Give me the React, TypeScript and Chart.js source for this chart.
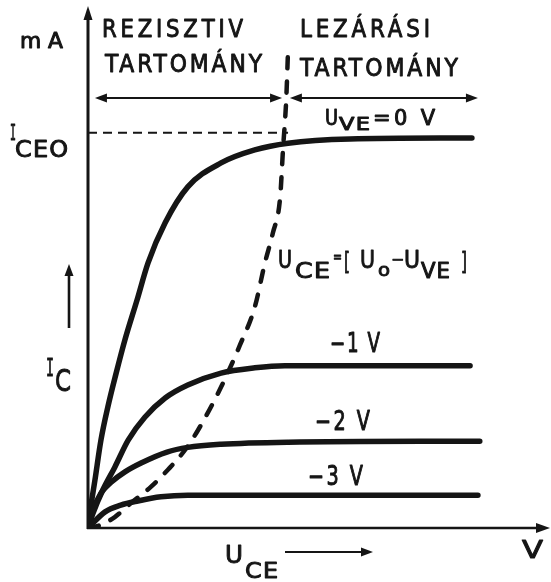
import { useEffect, useRef } from "react";
import { Chart, registerables } from "chart.js";

Chart.register(...registerables);

// Output characteristics: collector current I_C (mA) against U_CE (V),
// one curve per emitter bias U_VE.
type Pt = [number, number];

const curveVe0: Pt[] = [
  [0, 0], [0.04, 0.29], [0.15, 0.92], [0.28, 1.69], [0.43, 2.33], [0.61, 2.98],
  [0.8, 3.62], [1.06, 4.38], [1.3, 5.1], [1.67, 5.87], [2.16, 6.56], [2.88, 7.02],
  [3.61, 7.27], [4.33, 7.4], [5.67, 7.48], [8.31, 7.5],
];
const curveVeMinus1: Pt[] = [
  [0, 0], [0.11, 0.29], [0.32, 0.73], [0.58, 1.17], [0.87, 1.69], [1.23, 2.13],
  [1.67, 2.5], [2.16, 2.75], [2.88, 2.98], [3.61, 3.08], [4.26, 3.12], [8.27, 3.12],
];
const curveVeMinus2: Pt[] = [
  [0, 0], [0.11, 0.35], [0.28, 0.67], [0.5, 0.88], [0.8, 1.08], [1.15, 1.25],
  [1.71, 1.46], [2.16, 1.55], [2.88, 1.61], [4.33, 1.65], [8.48, 1.67],
];
const curveVeMinus3: Pt[] = [
  [0, 0], [0.37, 0.31], [0.71, 0.44], [1.08, 0.52], [1.58, 0.6], [2.16, 0.63],
  [4.26, 0.63], [8.44, 0.63],
];
// Boundary between the resistive and the cut-off region: U_CE = U_0 - U_VE
const boundary: Pt[] = [
  [0, 0], [0.28, 0.06], [0.58, 0.21], [0.93, 0.48], [1.36, 0.79], [1.73, 1.12],
  [2.1, 1.5], [2.38, 1.88], [2.88, 2.71], [3.29, 3.52], [3.61, 4.25],
  [3.83, 5.1], [4.0, 5.67], [4.16, 6.37], [4.22, 7.27], [4.29, 8.23], [4.33, 9.19],
];
const iceoLevel = 7.6;
const iceoLine: Pt[] = [[0, iceoLevel], [4.33, iceoLevel]];

// Double-headed arrows marking the two regions: [from, to] on the U_CE axis
const regionLevel = 8.27;
const resistiveSpan: Pt = [0.15, 4.2];
const cutoffSpan: Pt = [4.37, 8.44];

const INK = "#151515";
const SANS = '"DejaVu Sans Condensed", "Liberation Sans Narrow", "DejaVu Sans", sans-serif';
const MONO = '"DejaVu Sans Mono", "Liberation Mono", monospace';

const toXY = (pts: Pt[]) => pts.map(([x, y]) => ({ x, y }));

function arrowHead(ctx: CanvasRenderingContext2D, tx: number, ty: number, dx: number, dy: number, len = 12, half = 4.5) {
  const nx = -dy, ny = dx;
  ctx.beginPath();
  ctx.moveTo(tx, ty);
  ctx.lineTo(tx - dx * len + nx * half, ty - dy * len + ny * half);
  ctx.lineTo(tx - dx * len - nx * half, ty - dy * len - ny * half);
  ctx.closePath();
  ctx.fill();
}

function arrowLine(ctx: CanvasRenderingContext2D, x1: number, y1: number, x2: number, y2: number, both: boolean, width = 2) {
  const d = Math.hypot(x2 - x1, y2 - y1);
  const dx = (x2 - x1) / d, dy = (y2 - y1) / d;
  ctx.lineWidth = width;
  ctx.beginPath();
  ctx.moveTo(both ? x1 + dx * 8 : x1, both ? y1 + dy * 8 : y1);
  ctx.lineTo(x2 - dx * 8, y2 - dy * 8);
  ctx.stroke();
  arrowHead(ctx, x2, y2, dx, dy);
  if (both) arrowHead(ctx, x1, y1, -dx, -dy);
}

// Draws text whose left edge, baseline, cap height and total width are given;
// a thin outline gives the strokes a pen-like weight.
function ink(ctx: CanvasRenderingContext2D, text: string, left: number, baseline: number, capH: number, width: number, family = SANS, spacing = 0) {
  ctx.save();
  ctx.font = `${Math.round(capH / 0.73)}px ${family}`;
  (ctx as any).letterSpacing = `${spacing}px`;
  const w = ctx.measureText(text).width - spacing;
  ctx.translate(left, baseline);
  ctx.scale(width / w, 1);
  ctx.textBaseline = "alphabetic";
  ctx.textAlign = "left";
  ctx.fillStyle = INK;
  ctx.strokeStyle = INK;
  ctx.lineWidth = 0.9;
  ctx.lineJoin = "round";
  ctx.fillText(text, 0, 0);
  ctx.strokeText(text, 0, 0);
  ctx.restore();
}

const inkPlugin = {
  id: "diagramInk",
  beforeDatasetsDraw(chart: any) {
    const { ctx, chartArea } = chart;
    const { left, right, top, bottom } = chartArea;
    ctx.save();
    ctx.strokeStyle = INK;
    ctx.fillStyle = INK;
    ctx.lineCap = "butt";
    // axes
    ctx.lineWidth = 3;
    ctx.beginPath();
    ctx.moveTo(left, bottom + 1);
    ctx.lineTo(left, top + 10);
    ctx.stroke();
    arrowHead(ctx, left, top - 2, 0, -1, 14, 4.5);
    ctx.lineWidth = 2.6;
    ctx.beginPath();
    ctx.moveTo(left - 1, bottom);
    ctx.lineTo(right - 10, bottom);
    ctx.stroke();
    arrowHead(ctx, right, bottom, 1, 0, 14, 5);
    ctx.restore();
  },
  afterDraw(chart: any) {
    const { ctx, scales } = chart;
    const xs = scales.x, ys = scales.y;
    const py = ys.getPixelForValue(regionLevel);
    ctx.save();
    ctx.strokeStyle = INK;
    ctx.fillStyle = INK;
    arrowLine(ctx, xs.getPixelForValue(resistiveSpan[0]), py, xs.getPixelForValue(resistiveSpan[1]), py, true);
    arrowLine(ctx, xs.getPixelForValue(cutoffSpan[0]), py, xs.getPixelForValue(cutoffSpan[1]), py, true);
    // I_C and U_CE direction arrows
    arrowLine(ctx, 69, 328, 69, 264, false, 2.6);
    arrowLine(ctx, 285, 552, 373, 552, false, 2.2);
    ctx.restore();

    // axis captions
    ink(ctx, "m A", 20, 48, 15, 43);
    ink(ctx, "I", 10, 140, 15, 6, MONO);
    ink(ctx, "CEO", 15, 157, 17, 53, SANS, 1);
    ink(ctx, "I", 46, 376, 18, 8, MONO);
    ink(ctx, "C", 55, 391, 22, 16);
    ink(ctx, "U", 225, 563, 18, 18);
    ink(ctx, "CE", 245, 578, 16, 33, SANS, 1);
    ink(ctx, "V", 522, 558, 18, 21);

    // region titles
    ink(ctx, "REZISZTIV", 102, 37, 18, 141, SANS, 4);
    ink(ctx, "TARTOMÁNY", 105, 72, 18, 157, SANS, 3);
    ink(ctx, "LEZÁRÁSI", 300, 37, 18, 130, SANS, 4);
    ink(ctx, "TARTOMÁNY", 300, 76, 18, 158, SANS, 3);

    // curve parameters
    ink(ctx, "U", 325, 125, 15, 13);
    ink(ctx, "VE", 339, 130, 13, 31, SANS, 1);
    ink(ctx, "=0 V", 373, 125, 15, 62, SANS, 3);
    ink(ctx, "−1 V", 330, 352, 19, 50, SANS, 2);
    ink(ctx, "−2 V", 315, 430, 19, 55, SANS, 3);
    ink(ctx, "−3 V", 308, 485, 19, 55, SANS, 3);

    // boundary formula
    ink(ctx, "U", 278, 268, 18, 14);
    ink(ctx, "CE", 295, 278, 15, 35, SANS, 1);
    ink(ctx, "=", 333, 262, 12, 9);
    ink(ctx, "[", 344, 270, 18, 6);
    ink(ctx, "U", 360, 268, 18, 15);
    ink(ctx, "o", 378, 276, 13, 12);
    ink(ctx, "−", 391, 265, 12, 13);
    ink(ctx, "U", 404, 268, 18, 16);
    ink(ctx, "VE", 421, 278, 15, 29, SANS, 1);
    ink(ctx, "]", 461, 270, 18, 6);
  },
};

const solid = (pts: Pt[]) => ({
  data: toXY(pts),
  borderColor: INK,
  borderWidth: 5.5,
  borderCapStyle: "round" as const,
  borderJoinStyle: "round" as const,
  cubicInterpolationMode: "monotone" as const,
  pointRadius: 0,
  fill: false,
});

export default function App() {
  const ref = useRef<HTMLCanvasElement>(null);
  useEffect(() => {
    if (!ref.current) return;
    const chart = new Chart(ref.current, {
      type: "line",
      data: {
        datasets: [
          {
            data: toXY(iceoLine),
            borderColor: INK,
            borderWidth: 2,
            borderDash: [9, 6],
            pointRadius: 0,
            tension: 0,
          },
          solid(curveVeMinus3),
          solid(curveVeMinus2),
          solid(curveVeMinus1),
          solid(curveVe0),
          {
            ...solid(boundary),
            borderWidth: 4.5,
            borderDash: [11, 13],
          },
        ] as any,
      },
      options: {
        animation: false,
        responsive: false,
        devicePixelRatio: 1,
        layout: { padding: { left: 88, right: 1, top: 8, bottom: 54 } },
        scales: {
          x: { type: "linear", min: 0, max: 10, display: false },
          y: { type: "linear", min: 0, max: 10, display: false },
        },
        plugins: { legend: { display: false }, tooltip: { enabled: false } },
        elements: { point: { radius: 0 } },
      },
      plugins: [inkPlugin],
    });
    return () => chart.destroy();
  }, []);
  return (
    <div style={{ position: "fixed", left: 0, top: 0, width: 551, height: 582, background: "#fff" }}>
      <canvas ref={ref} width={551} height={582} style={{ display: "block" }} />
    </div>
  );
}
